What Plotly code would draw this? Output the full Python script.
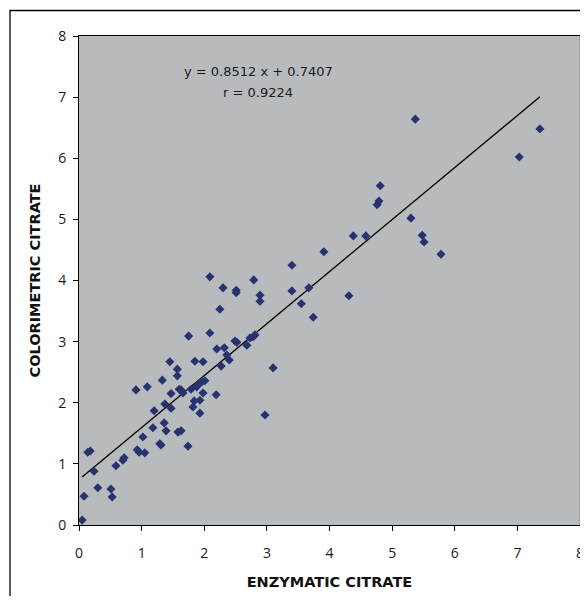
import plotly.graph_objects as go

enzymatic = [0.05, 0.08, 0.14, 0.18, 0.24, 0.30, 0.51, 0.53, 0.59, 0.72, 0.70, 0.91, 0.93, 0.96, 1.05,
             1.02, 1.09, 1.20, 1.18, 1.29, 1.31, 1.33, 1.36, 1.37, 1.39, 1.45, 1.47, 1.47, 1.57, 1.57,
             1.58, 1.63, 1.60, 1.63, 1.66, 1.74, 1.75, 1.79, 1.82, 1.84, 1.85, 1.88, 1.92, 1.93, 1.93,
             1.96, 1.98, 1.98, 2.01, 2.09, 2.09, 2.19, 2.20, 2.25, 2.27, 2.30, 2.32, 2.36, 2.40, 2.49,
             2.51, 2.51, 2.52, 2.68, 2.73, 2.78, 2.81, 2.79, 2.89, 2.89, 2.97, 3.10, 3.40, 3.40, 3.55,
             3.67, 3.74, 3.91, 4.38, 4.58, 4.31, 4.76, 4.79, 4.81, 5.30, 5.37, 5.48, 5.51, 5.78, 7.03,
             7.36]
colorimetric = [0.08, 0.47, 1.19, 1.21, 0.88, 0.61, 0.59, 0.46, 0.97, 1.10, 1.06, 2.21, 1.23, 1.19, 1.18,
                1.44, 2.26, 1.87, 1.59, 1.33, 1.31, 2.37, 1.67, 1.98, 1.54, 2.67, 2.15, 1.91, 2.55, 2.44,
                1.52, 1.54, 2.22, 2.21, 2.16, 1.29, 3.09, 2.22, 1.93, 2.03, 2.68, 2.26, 2.32, 2.04, 1.83,
                2.34, 2.16, 2.67, 2.36, 4.06, 3.14, 2.13, 2.88, 3.53, 2.60, 3.88, 2.90, 2.78, 2.70, 3.01,
                3.84, 3.80, 2.99, 2.94, 3.06, 3.08, 3.11, 4.01, 3.76, 3.66, 1.80, 2.57, 4.25, 3.83, 3.62,
                3.88, 3.40, 4.47, 4.73, 4.73, 3.75, 5.24, 5.30, 5.55, 5.02, 6.64, 4.74, 4.63, 4.43, 6.02,
                6.48]

slope = 0.8512
intercept = 0.7407
r_value = 0.9224
x_ticks = [0, 1, 2, 3, 4, 5, 6, 7, 8]
y_ticks = [0, 1, 2, 3, 4, 5, 6, 7, 8]

line_x = [min(enzymatic), max(enzymatic)]
line_y = [slope * v + intercept for v in line_x]

fig = go.Figure()
fig.add_trace(go.Scatter(x=line_x, y=line_y, mode="lines",
                         line=dict(color="black", width=1.3), hoverinfo="skip"))
fig.add_trace(go.Scatter(x=enzymatic, y=colorimetric, mode="markers",
                         marker=dict(symbol="diamond", size=7, color="#27336e")))

# page offset of 8px (default body margin)
W, H = 580, 588
L, T = 71, 28
pw, ph = 501, 489
R = W - L - pw
B = H - T - ph

# helpers take page pixel positions
def px2paper_x(px):
    return (px - 79) / pw

def px2paper_y(py):
    return (525 - py) / ph

fig.add_shape(type="rect", xref="paper", yref="paper",
              x0=px2paper_x(10), x1=px2paper_x(640), y0=px2paper_y(660), y1=px2paper_y(10.5),
              line=dict(color="black", width=1.3), fillcolor="rgba(0,0,0,0)", layer="below")
fig.add_shape(type="line", xref="paper", yref="paper", x0=1, x1=1, y0=0, y1=1,
              line=dict(color="#808080", width=1))

fig.add_annotation(x=px2paper_x(258), y=px2paper_y(62), xref="paper", yref="paper",
                   text=f"y = {slope} x + {intercept}", showarrow=False,
                   font=dict(family="DejaVu Sans", size=13, color="#1a1a1a"))
fig.add_annotation(x=px2paper_x(258), y=px2paper_y(83), xref="paper", yref="paper",
                   text=f"r = {r_value}", showarrow=False,
                   font=dict(family="DejaVu Sans", size=13, color="#1a1a1a"))

axis_common = dict(showgrid=False, zeroline=False, showline=True, linecolor="black", linewidth=1,
                   ticks="outside", ticklen=5, tickcolor="black", tickwidth=1, automargin=False,
                   tickfont=dict(family="Open Sans", size=14, color="#1a1a1a"))

fig.update_layout(
    width=W, height=H,
    margin=dict(l=L, r=R, t=T, b=B, pad=0, autoexpand=False),
    paper_bgcolor="white",
    plot_bgcolor="#b8bbbe",
    showlegend=False,
    xaxis=dict(range=[0, 8], tickvals=x_ticks, mirror=True, ticklabelstandoff=10,
               title=dict(text="ENZYMATIC CITRATE", standoff=16,
                          font=dict(family="DejaVu Sans", size=14.5, color="#111", weight="bold")),
               **axis_common),
    yaxis=dict(range=[0, 8], tickvals=y_ticks, ticklabelstandoff=4,
               title=dict(text="COLORIMETRIC CITRATE", standoff=14,
                          font=dict(family="DejaVu Sans", size=14.5, color="#111", weight="bold")),
               **axis_common),
)

fig.write_html("out.html")
